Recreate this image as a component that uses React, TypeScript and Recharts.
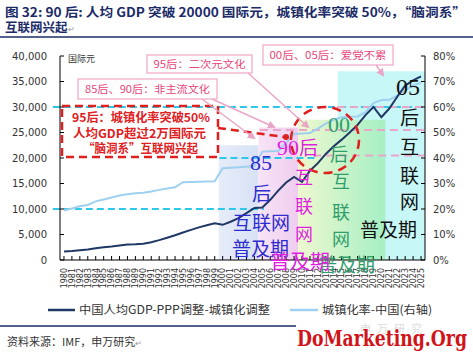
import { ComposedChart, Line, XAxis, YAxis, ReferenceArea, ReferenceLine } from 'recharts';

const years = [
  1980, 1981, 1982, 1983, 1984, 1985, 1986, 1987, 1988, 1989,
  1990, 1991, 1992, 1993, 1994, 1995, 1996, 1997, 1998, 1999,
  2000, 2001, 2002, 2003, 2004, 2005, 2006, 2007, 2008, 2009,
  2010, 2011, 2012, 2013, 2014, 2015, 2016, 2017, 2018, 2019,
  2020, 2021, 2022, 2023, 2024, 2025,
];

// 中国人均GDP-PPP调整-城镇化调整 (国际元)
const gdpPpp = [
  1650, 1750, 1900, 2050, 2300, 2500, 2650, 2850, 3050, 3100,
  3200, 3500, 3900, 4350, 4850, 5400, 5900, 6400, 6800, 7200,
  6900, 7500, 8200, 9200, 10200, 10300, 11800, 13600, 15200, 16300,
  15300, 17500, 19000, 20800, 22300, 23600, 25000, 26500, 28400, 30000,
  28000, 29700, 32000, 34200, 35200, 36000,
];

// 城镇化率-中国 (%)
const urbanRate = [
  19.4, 20.2, 21.1, 21.6, 23.0, 23.7, 24.5, 25.3, 25.8, 26.2,
  26.4, 26.9, 27.5, 28.0, 28.5, 30.5, 30.6, 30.7, 30.8, 30.9,
  36.0, 36.2, 36.4, 36.6, 36.8, 42.5, 42.6, 42.7, 46.0, 49.4,
  49.6, 49.8, 51.5, 53.5, 55.0, 56.0, 56.2, 56.3, 58.0, 61.5,
  62.7, 62.8, 64.5, 66.5, 68.5, 69.5,
];

const gdpTicks = [0, 5000, 10000, 15000, 20000, 25000, 30000, 35000, 40000];
const rateTicks = [0, 10, 20, 30, 40, 50, 60, 70, 80];

const data = years.map((year, i) => ({ year, gdp: gdpPpp[i], urban: urbanRate[i] }));

const CJK = '"Noto Sans CJK SC", "Noto Sans", sans-serif';
const SERIF = '"Liberation Serif", "DejaVu Serif", serif';
const NAVY = '#1f3864';
const LIGHT = '#9fd0f0';
const CYAN = '#2ec8ea';
const PINK = '#eaa6c8';
const RED = '#e0201e';

const YearTick = (props: any) => {
  const { x, y, payload } = props;
  return (
    <text
      x={x}
      y={y}
      dy="0.35em"
      transform={`rotate(-90 ${x} ${y})`}
      textAnchor="end"
      fontSize={8}
      fontFamily="DejaVu Sans"
      fill="#333"
    >
      {payload.value}
    </text>
  );
};

function Gradients() {
  return (
    <svg width={0} height={0} style={{ position: 'absolute' }}>
      <defs>
        <linearGradient id="band85" x1="0" y1="0" x2="1" y2="0">
          <stop offset="0%" stopColor="#e6ecf9" />
          <stop offset="100%" stopColor="#d8e2f6" />
        </linearGradient>
        <linearGradient id="band90" x1="0" y1="0" x2="1" y2="0">
          <stop offset="0%" stopColor="#f8e4f6" />
          <stop offset="100%" stopColor="#efcdef" />
        </linearGradient>
        <linearGradient id="band00" x1="0" y1="0" x2="1" y2="0">
          <stop offset="0%" stopColor="#eef8cf" />
          <stop offset="100%" stopColor="#a6efc4" />
        </linearGradient>
        <marker id="pinkHead" markerWidth="8" markerHeight="8" refX="6" refY="4" orient="auto" markerUnits="userSpaceOnUse">
          <path d="M0,0 L8,4 L0,8 z" fill={PINK} />
        </marker>
      </defs>
    </svg>
  );
}

function Callout({ x, y, w, h, text, len }: { x: number; y: number; w: number; h: number; text: string; len: number }) {
  return (
    <g>
      <rect x={x} y={y} width={w} height={h} fill="#fff" stroke="#f2a6c6" strokeWidth={1.2} />
      <text x={x + (w - len) / 2} y={y + h / 2 + 4} fontSize={10.5} fontFamily={CJK} fill="#e8457a" textLength={len} lengthAdjust="spacingAndGlyphs">
        {text}
      </text>
    </g>
  );
}

function BigText({ x, y, color, size = 19, children }: { x: number; y: number; color: string; size?: number; children: any }) {
  return (
    <text x={x} y={y} fontSize={size} fontFamily={CJK} fill={color}>
      {children}
    </text>
  );
}

function Overlay() {
  const blue = '#2c2cd0';
  const mag = '#e01fe0';
  const green = '#2f9e6c';
  const blk = '#111';
  return (
    <svg width={473} height={352} style={{ position: 'absolute', left: 0, top: 0, pointerEvents: 'none' }}>
      {/* title */}
      <text x={5} y={17} fontSize={12.5} fontWeight="bold" fontFamily={CJK} fill="#1b2b68" textLength={461} lengthAdjust="spacingAndGlyphs">
        图 32: 90 后: 人均 GDP 突破 20000 国际元，城镇化率突破 50%，“脑洞系”
      </text>
      <text x={5} y={32} fontSize={12.5} fontWeight="bold" fontFamily={CJK} fill="#1b2b68">
        互联网兴起<tspan fontSize={8} fontWeight="normal" fill="#999">↵</tspan>
      </text>
      <line x1={0} x2={473} y1={37} y2={37} stroke="#1b2b68" strokeWidth={1.5} />

      <text x={68} y={62} fontSize={9} fontFamily={CJK} fill="#333">国际元</text>

      {/* red dashed box */}
      <rect x={62} y={106} width={156} height={51} fill="none" stroke={RED} strokeWidth={2.5} strokeDasharray="8 5" />
      <text x={72} y={122} fontSize={12} fontWeight="bold" fontFamily={CJK} fill={RED} textLength={138} lengthAdjust="spacingAndGlyphs">95后：城镇化率突破50%</text>
      <text x={73} y={138} fontSize={12} fontWeight="bold" fontFamily={CJK} fill={RED} textLength={133} lengthAdjust="spacingAndGlyphs">人均GDP超过2万国际元</text>
      <text x={83} y={153} fontSize={12} fontWeight="bold" fontFamily={CJK} fill={RED} textLength={115} lengthAdjust="spacingAndGlyphs">“脑洞系”互联网兴起</text>
      <line x1={218} y1={128} x2={284} y2={137} stroke={RED} strokeWidth={2.5} strokeDasharray="8 5" />
      <circle cx={286} cy={137} r={3} fill={RED} />
      <ellipse cx={325} cy={140} rx={34} ry={33} fill="none" stroke={RED} strokeWidth={2.5} strokeDasharray="9 6" />

      {/* pink callouts */}
      <line x1={248} y1={73} x2={308} y2={127} stroke={PINK} strokeWidth={1.5} markerEnd="url(#pinkHead)" />
      <line x1={212} y1={99} x2={274} y2={127} stroke={PINK} strokeWidth={1.5} markerEnd="url(#pinkHead)" />
      <line x1={202} y1={99} x2={254} y2={138} stroke={PINK} strokeWidth={1.5} markerEnd="url(#pinkHead)" />
      <line x1={376} y1={65} x2={383} y2={75} stroke={PINK} strokeWidth={1.5} markerEnd="url(#pinkHead)" />
      <Callout x={147} y={55} w={105} h={18} text="95后：二次元文化" len={92} />
      <Callout x={78} y={79} w={139} h={20} text="85后、90后：非主流文化" len={125} />
      <Callout x={263} y={45} w={130} h={20} text="00后、05后：爱党不累" len={117} />

      {/* 85后 */}
      <text x={250} y={170} fontSize={22} fontFamily={SERIF} fill={blue}>85</text>
      <BigText x={252} y={201} color={blue}>后</BigText>
      <BigText x={233} y={230} color={blue}>互联网</BigText>
      <BigText x={232} y={256} color={blue}>普及期</BigText>

      {/* 90后 */}
      <text x={277} y={155} fontSize={22} fontFamily={SERIF} fill={mag}>90<tspan fontFamily={CJK} fontSize={19}>后</tspan></text>
      <BigText x={295} y={184} color={mag} size={18}>互</BigText>
      <BigText x={295} y={213} color={mag} size={18}>联</BigText>
      <BigText x={295} y={241} color={mag} size={18}>网</BigText>

      {/* 00后 */}
      <text x={328} y={132} fontSize={22} fontFamily={SERIF} fill={green}>00</text>
      <BigText x={330} y={161} color={green} size={18}>后</BigText>
      <BigText x={332} y={188} color={green} size={18}>互</BigText>
      <BigText x={332} y={219} color={green} size={18}>联</BigText>
      <BigText x={332} y={246} color={green} size={18}>网</BigText>
      <BigText x={318} y={272} color={green}>普及期</BigText>
      <BigText x={270} y={269} color={mag} size={20}>普及期</BigText>

      {/* 05后 */}
      <text x={396} y={95} fontSize={24} fontFamily={SERIF} fill={blk}>05</text>
      <BigText x={400} y={125} color={blk}>后</BigText>
      <BigText x={400} y={154} color={blk}>互</BigText>
      <BigText x={400} y={183} color={blk}>联</BigText>
      <BigText x={400} y={209} color={blk}>网</BigText>
      <BigText x={360} y={237} color={blk}>普及期</BigText>

      {/* legend */}
      <line x1={48} x2={75} y1={310} y2={310} stroke={NAVY} strokeWidth={2.5} />
      <text x={79} y={314} fontSize={11.5} fontFamily={CJK} fill="#333" textLength={191} lengthAdjust="spacingAndGlyphs">中国人均GDP-PPP调整-城镇化调整</text>
      <line x1={290} x2={318} y1={310} y2={310} stroke={LIGHT} strokeWidth={2.5} />
      <text x={322} y={314} fontSize={11.5} fontFamily={CJK} fill="#333" textLength={110} lengthAdjust="spacingAndGlyphs">城镇化率-中国(右轴)</text>

      {/* footer */}
      <line x1={0} x2={296} y1={326} y2={326} stroke="#1b2b68" strokeWidth={1.5} />
      <text x={360} y={333} fontSize={11} fontFamily={CJK} fill="#dcdcdc" letterSpacing={6}>申万研究</text>
      <text x={7} y={346} fontSize={11} fontFamily={CJK} fill="#333">
        资料来源：IMF，申万研究<tspan fontSize={8} fill="#999">↵</tspan>
      </text>
      <text x={297} y={346} fontSize={22} fontWeight="bold" fontFamily='"DejaVu Serif", serif' fill="#d0141a" textLength={170} lengthAdjust="spacingAndGlyphs">
        DoMarketing.Org
      </text>
    </svg>
  );
}

export default function App() {
  return (
    <div style={{ position: 'absolute', left: 0, top: 0, width: 473, height: 352, background: '#fff' }}>
      <Gradients />
      <ComposedChart width={473} height={352} data={data} margin={{ top: 56, right: 0, bottom: 57, left: 0 }}>
        <XAxis
          dataKey="year"
          type="number"
          domain={[1979.5, 2025.5]}
          ticks={years}
          interval={0}
          height={35}
          tickSize={-4}
          tickMargin={12}
          stroke="#000"
          tick={(p: any) => <YearTick {...p} />}
        />
        <YAxis
          yAxisId="left"
          domain={[0, 40000]}
          ticks={gdpTicks}
          width={60}
          tickSize={-4}
          tickMargin={17}
          stroke="#000"
          tickFormatter={(v: number) => v.toLocaleString('en-US')}
          tick={{ fill: '#333', fontSize: 10, fontFamily: 'DejaVu Sans' }}
        />
        <YAxis
          yAxisId="right"
          orientation="right"
          domain={[0, 80]}
          ticks={rateTicks}
          width={48}
          tickSize={-4}
          tickMargin={12}
          stroke="#000"
          tickFormatter={(v: number) => `${v}%`}
          tick={{ fill: '#333', fontSize: 10, fontFamily: 'DejaVu Sans', textAnchor: 'start' }}
        />

        <ReferenceArea yAxisId="left" x1={2014.5} x2={2025.5} y1={0} y2={37000} fill="#c8f7f7" fillOpacity={1} stroke="none" />
        <ReferenceArea yAxisId="left" x1={1999.5} x2={2004.5} y1={0} y2={22500} fill="url(#band85)" fillOpacity={1} stroke="none" />
        <ReferenceArea yAxisId="left" x1={2004.5} x2={2009.5} y1={0} y2={26000} fill="url(#band90)" fillOpacity={1} stroke="none" />
        <ReferenceArea yAxisId="left" x1={2009.5} x2={2020.5} y1={0} y2={27500} fill="url(#band00)" fillOpacity={1} stroke="none" />

        <ReferenceLine yAxisId="left" ifOverflow="visible" segment={[{ x: 1978.6, y: 30000 }, { x: 2025.3, y: 30000 }]} stroke={CYAN} strokeWidth={2} strokeDasharray="7 4" />
        <ReferenceLine yAxisId="left" ifOverflow="visible" segment={[{ x: 1999.6, y: 20000 }, { x: 2011.8, y: 20000 }]} stroke={CYAN} strokeWidth={2} strokeDasharray="7 4" />
        <ReferenceLine yAxisId="left" ifOverflow="visible" segment={[{ x: 1978.6, y: 10000 }, { x: 2005.2, y: 10000 }]} stroke={CYAN} strokeWidth={2} strokeDasharray="7 4" />
        <ReferenceLine yAxisId="right" segment={[{ x: 2014.4, y: 60 }, { x: 2025.4, y: 60 }]} stroke={PINK} strokeWidth={2} strokeDasharray="8 5" />
        <ReferenceLine yAxisId="right" segment={[{ x: 2004.7, y: 51 }, { x: 2025.4, y: 51 }]} stroke={PINK} strokeWidth={2} strokeDasharray="8 5" />
        <ReferenceLine yAxisId="right" segment={[{ x: 2011.4, y: 41 }, { x: 2025.4, y: 41 }]} stroke={PINK} strokeWidth={2} strokeDasharray="8 5" />

        <Line yAxisId="right" dataKey="urban" stroke={LIGHT} strokeWidth={2} dot={false} isAnimationActive={false} />
        <Line yAxisId="left" dataKey="gdp" stroke={NAVY} strokeWidth={2} dot={false} isAnimationActive={false} />
      </ComposedChart>
      <Overlay />
    </div>
  );
}
